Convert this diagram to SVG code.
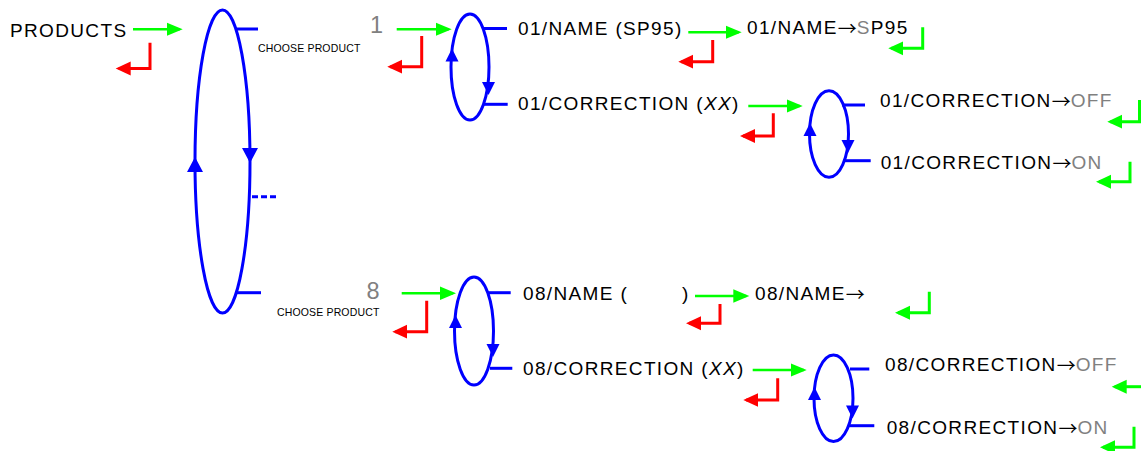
<svg xmlns="http://www.w3.org/2000/svg" xmlns:xlink="http://www.w3.org/1999/xlink" width="1141" height="451" viewBox="0 0 1141 451">
<style>
  text { font-family: "Liberation Sans", Arial, sans-serif; fill: #000; }
  .t { font-size: 19px; letter-spacing: 1.35px; }
  .s { font-size: 10.5px; letter-spacing: 0.15px; }
  .num { font-size: 23.5px; fill: #808080; }
  .g { fill: #808080; }
  .ar { font-family: "Noto Sans CJK SC", "DejaVu Sans", sans-serif; letter-spacing: 0; }
  .loop { fill: none; stroke: #0000FF; stroke-width: 3; }
  .tick { stroke: #0000FF; stroke-width: 3; fill: none; }
  .head { fill: #0000FF; }
  .ga { fill: none; stroke: #00FF00; stroke-width: 2.6; marker-end: url(#mg); }
  .gr { fill: none; stroke: #00FF00; stroke-width: 3; marker-end: url(#mg2); }
  .rr { fill: none; stroke: #FF0000; stroke-width: 3; marker-end: url(#mr); }
</style>
<defs>
  <marker id="mg" markerUnits="userSpaceOnUse" viewBox="0 -8 18 16" markerWidth="18" markerHeight="16" refX="13" refY="0" orient="auto">
    <path d="M0,-6.7 L16,0 L0,6.7 z" fill="#00FF00"/>
  </marker>
  <marker id="mg2" markerUnits="userSpaceOnUse" viewBox="0 -8 18 16" markerWidth="18" markerHeight="16" refX="12" refY="0" orient="auto">
    <path d="M0,-7 L15,0 L0,7 z" fill="#00FF00"/>
  </marker>
  <marker id="mr" markerUnits="userSpaceOnUse" viewBox="0 -8 18 16" markerWidth="18" markerHeight="16" refX="12" refY="0" orient="auto">
    <path d="M0,-7 L15,0 L0,7 z" fill="#FF0000"/>
  </marker>
  <path id="hDownL" d="M-8,-15 L8,-15 L0,0 z"/>
  <path id="hUpL" d="M-8,15 L8,15 L0,0 z"/>
  <path id="hDown" d="M-6.5,-13 L6.5,-13 L0,0 z"/>
  <path id="hUp" d="M-6.5,13 L6.5,13 L0,0 z"/>
</defs>

<g id="products">
  <text class="t" x="10" y="37">PRODUCTS</text>
</g>

<g id="choose-product-loop">
  <ellipse class="loop" cx="222.5" cy="161.5" rx="27.5" ry="151.5"/>
  <line class="tick" x1="235" y1="29" x2="258" y2="29"/>
  <line class="tick" x1="237" y1="292.7" x2="261" y2="292.7"/>
  <line class="tick" x1="252" y1="196.7" x2="277" y2="196.7" stroke-dasharray="6,3"/>
  <use xlink:href="#hDownL" class="head" x="250" y="163"/>
  <use xlink:href="#hUpL" class="head" x="195" y="157"/>
  <text class="s" x="258" y="52">CHOOSE PRODUCT</text>
  <text class="s" x="277" y="316">CHOOSE PRODUCT</text>
</g>

<g id="product-1">
  <text class="num" x="370" y="33">1</text>
  <ellipse class="loop" cx="470" cy="67" rx="19" ry="53"/>
  <line class="tick" x1="483" y1="28.5" x2="507" y2="28.5"/>
  <line class="tick" x1="483" y1="104.3" x2="507.7" y2="104.3"/>
  <use xlink:href="#hUp" class="head" x="452" y="48.5"/>
  <use xlink:href="#hDown" class="head" x="488.5" y="95"/>
</g>

<g id="name-1">
  <text class="t" x="518" y="35">01/NAME (SP95)</text>
</g>
<g id="name-1-value">
  <text class="t" x="747" y="34">01/NAME<tspan class="ar" dy="1.5">→</tspan><tspan class="g" dy="-1.5">S</tspan>P95</text>
</g>
<g id="correction-1">
  <text class="t" x="518" y="110">01/CORRECTION (<tspan font-style="italic">XX</tspan>)</text>
</g>
<g id="correction-1-loop">
  <ellipse class="loop" cx="829" cy="134" rx="19.5" ry="43.3"/>
  <line class="tick" x1="842" y1="105" x2="865" y2="105"/>
  <line class="tick" x1="843.3" y1="160.7" x2="870.7" y2="160.7"/>
  <use xlink:href="#hUp" class="head" x="810" y="123"/>
  <use xlink:href="#hDown" class="head" x="848" y="153"/>
</g>
<g id="correction-1-off">
  <text class="t" x="880" y="107">01/CORRECTION<tspan class="ar" dy="1.5">→</tspan><tspan class="g" dy="-1.5">OFF</tspan></text>
</g>
<g id="correction-1-on">
  <text class="t" x="880.7" y="169">01/CORRECTION<tspan class="ar" dy="1.5">→</tspan><tspan class="g" dy="-1.5">ON</tspan></text>
</g>

<g id="product-8">
  <text class="num" x="366.5" y="299">8</text>
  <ellipse class="loop" cx="474" cy="331" rx="19.5" ry="54"/>
  <line class="tick" x1="488.3" y1="292.7" x2="510.7" y2="292.7"/>
  <line class="tick" x1="490" y1="368.3" x2="512.3" y2="368.3"/>
  <use xlink:href="#hUp" class="head" x="455.5" y="315"/>
  <use xlink:href="#hDown" class="head" x="493" y="357"/>
</g>
<g id="name-8">
  <text class="t" x="523" y="300">08/NAME (<tspan x="682">)</tspan></text>
</g>
<g id="name-8-value">
  <text class="t" x="755" y="300">08/NAME<tspan class="ar" dy="1.5">→</tspan></text>
</g>
<g id="correction-8">
  <text class="t" x="523" y="375">08/CORRECTION (<tspan font-style="italic">XX</tspan>)</text>
</g>
<g id="correction-8-loop">
  <ellipse class="loop" cx="833.5" cy="398.3" rx="19.5" ry="43.3"/>
  <line class="tick" x1="850" y1="369" x2="869.3" y2="369"/>
  <line class="tick" x1="848.3" y1="425.7" x2="874.3" y2="425.7"/>
  <use xlink:href="#hUp" class="head" x="814.5" y="387"/>
  <use xlink:href="#hDown" class="head" x="852.5" y="418.5"/>
</g>
<g id="correction-8-off">
  <text class="t" x="885" y="371">08/CORRECTION<tspan class="ar" dy="1.5">→</tspan><tspan class="g" dy="-1.5">OFF</tspan></text>
</g>
<g id="correction-8-on">
  <text class="t" x="886.7" y="434">08/CORRECTION<tspan class="ar" dy="1.5">→</tspan><tspan class="g" dy="-1.5">ON</tspan></text>
</g>

<g id="connectors">
  <!-- forward (green) -->
  <path class="ga" d="M133,29.3 H179.7"/>
  <path class="ga" d="M396.7,29.3 H448.7"/>
  <path class="ga" d="M688.3,32.3 H738.7"/>
  <path class="ga" d="M748.3,106 H799.7"/>
  <path class="ga" d="M401.7,293.3 H453"/>
  <path class="ga" d="M695,296 H746.3"/>
  <path class="ga" d="M752.7,370 H803.7"/>
  <!-- confirm (green return) -->
  <path class="gr" d="M922.7,27.3 V48.3 H891.3"/>
  <path class="gr" d="M1139.5,100 V121.7 H1110.3"/>
  <path class="gr" d="M1130,161.7 V181.7 H1099"/>
  <path class="gr" d="M929.3,291.7 V312.7 H898"/>
  <path class="gr" d="M1141,386.7 H1114.7"/>
  <path class="gr" d="M1134,426.7 V447.3 H1103"/>
  <!-- back (red return) -->
  <path class="rr" d="M150,42.7 V68.5 H118.7"/>
  <path class="rr" d="M421.7,36 V66.7 H390.3"/>
  <path class="rr" d="M712.7,40 V61.7 H681.3"/>
  <path class="rr" d="M773.3,113.3 V136 H743"/>
  <path class="rr" d="M426.7,300.7 V331.7 H395.3"/>
  <path class="rr" d="M720,304 V323.3 H689"/>
  <path class="rr" d="M777.7,378.3 V400 H746.3"/>
</g>
</svg>
